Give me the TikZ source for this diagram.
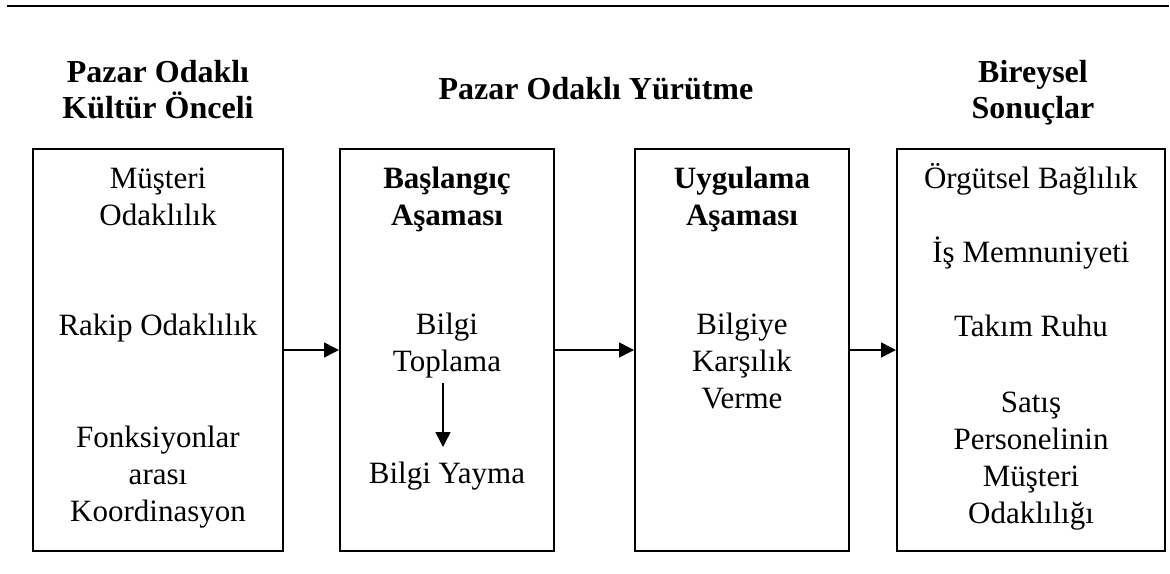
\documentclass[tikz,border=0pt]{standalone}
\usepackage{fontspec}
\setmainfont{Liberation Serif}
\usetikzlibrary{arrows.meta}
\begin{document}
\begin{tikzpicture}[x=1pt,y=-1pt,
  frame/.style={draw,line width=2pt,inner sep=0pt},
  body/.style={anchor=base,inner sep=0pt,font=\fontsize{31}{37}\selectfont},
  bodyb/.style={body,font=\fontsize{31}{37}\selectfont\bfseries},
  head/.style={anchor=base,inner sep=0pt,align=center,font=\fontsize{32}{36}\selectfont\bfseries},
  flow/.style={line width=1.5pt,-{Triangle[length=15pt,width=15pt]}}]
\useasboundingbox (0,0) rectangle (1170,573);

% rule across the top
\coordinate (ruleL) at (7,6);
\coordinate (ruleR) at (1169,6);
\draw[line width=2.5pt] (ruleL) -- (ruleR);

% column headings
\node[head] (h1a) at (158,82) {Pazar Odaklı};
\node[head] (h1b) at (158,118) {Kültür Önceli};
\node[head] (h2) at (596,99) {Pazar Odaklı Yürütme};
\node[head] (h3a) at (1033,82) {Bireysel};
\node[head] (h3b) at (1033,118) {Sonuçlar};

% the four boxes
\node[frame,minimum width=250pt,minimum height=402pt] (b1) at (158,350) {};
\node[frame,minimum width=214pt,minimum height=402pt] (b2) at (447,350) {};
\node[frame,minimum width=214pt,minimum height=402pt] (b3) at (742,350) {};
\node[frame,minimum width=268pt,minimum height=402pt] (b4) at (1031,350) {};

% box 1
\node[body] (m1) at (158,188) {Müşteri};
\node[body] (m2) at (158,225) {Odaklılık};
\node[body] (r1) at (158,335) {Rakip Odaklılık};
\node[body] (f1) at (158,447) {Fonksiyonlar};
\node[body] (f2) at (158,484) {arası};
\node[body] (f3) at (158,521) {Koordinasyon};

% box 2
\node[bodyb] (s1) at (447,188) {Başlangıç};
\node[bodyb] (s2) at (447,225) {Aşaması};
\node[body] (bt1) at (447,334) {Bilgi};
\node[body] (bt2) at (447,371) {Toplama};
\node[body] (by) at (447,483) {Bilgi Yayma};
\coordinate (v1) at (443,383);
\coordinate (v2) at (443,447);
\draw[flow] (v1) -- (v2);

% box 3
\node[bodyb] (u1) at (742,188) {Uygulama};
\node[bodyb] (u2) at (742,225) {Aşaması};
\node[body] (k1) at (742,334) {Bilgiye};
\node[body] (k2) at (742,371) {Karşılık};
\node[body] (k3) at (742,408) {Verme};

% box 4
\node[body] (o1) at (1031,188) {Örgütsel Bağlılık};
\node[body] (o2) at (1031,262) {İş Memnuniyeti};
\node[body] (o3) at (1031,336) {Takım Ruhu};
\node[body] (o4) at (1031,412) {Satış};
\node[body] (o5) at (1031,449) {Personelinin};
\node[body] (o6) at (1031,486) {Müşteri};
\node[body] (o7) at (1031,523) {Odaklılığı};

% connectors between the boxes
\draw[flow] (b1.east) -- (b2.west);
\draw[flow] (b2.east) -- (b3.west);
\draw[flow] (b3.east) -- (b4.west);
\end{tikzpicture}
\end{document}
